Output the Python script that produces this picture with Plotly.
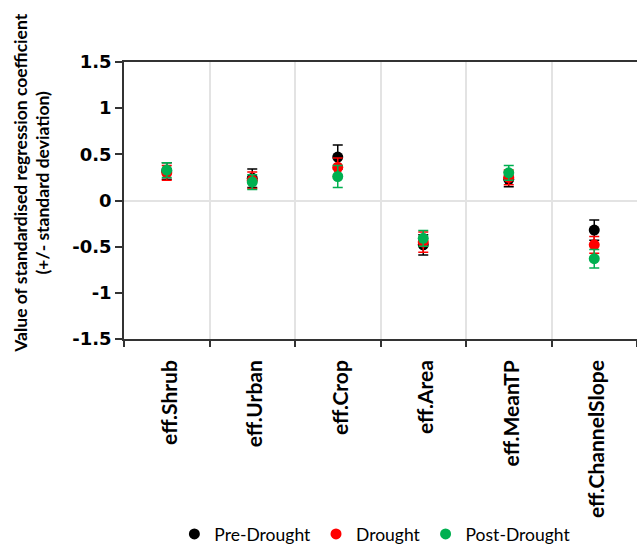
import plotly.graph_objects as go

categories = ["eff.Shrub", "eff.Urban", "eff.Crop", "eff.Area", "eff.MeanTP", "eff.ChannelSlope"]

pre_values = [0.32, 0.24, 0.47, -0.48, 0.23, -0.32]
pre_sd = [0.09, 0.10, 0.13, 0.11, 0.08, 0.11]

drought_values = [0.30, 0.22, 0.36, -0.45, 0.25, -0.48]
drought_sd = [0.08, 0.09, 0.10, 0.11, 0.08, 0.09]

post_values = [0.33, 0.20, 0.26, -0.41, 0.30, -0.63]
post_sd = [0.08, 0.08, 0.12, 0.085, 0.08, 0.10]

y_ticks = [-1.5, -1, -0.5, 0, 0.5, 1, 1.5]
y_tick_labels = ["-1.5", "-1", "-0.5", "0", "0.5", "1", "1.5"]

y_title = "Value of standardised regression coefficient<br>(+/- standard deviation)"

series = [
    ("Pre-Drought", pre_values, pre_sd, "#000000"),
    ("Drought", drought_values, drought_sd, "#FF0000"),
    ("Post-Drought", post_values, post_sd, "#00B050"),
]

font_family = "Lato, 'Open Sans', sans-serif"

fig = go.Figure()
for name, vals, sd, color in series:
    fig.add_trace(go.Scatter(
        x=categories, y=vals, name=name, mode="markers",
        marker=dict(symbol="circle", size=11, color=color),
        error_y=dict(type="data", array=sd, visible=True, color=color,
                     thickness=1.5, width=5),
    ))

fig.update_layout(
    width=637, height=552,
    margin=dict(l=124, r=0, t=62, b=210),
    paper_bgcolor="white", plot_bgcolor="white",
    font=dict(family=font_family, color="#000000"),
    showlegend=True,
    legend=dict(orientation="h", x=0.49, xanchor="center", y=-0.705, yanchor="middle",
                font=dict(size=17.5, family=font_family), itemwidth=30,
                tracegroupgap=0),
    annotations=[dict(
        text=y_title, textangle=-90, xref="paper", yref="paper",
        x=-0.181, y=0.561, xanchor="center", yanchor="middle", showarrow=False,
        font=dict(size=17.5, family=font_family, weight="bold", color="#000000"),
    )],
)

fig.update_xaxes(
    type="category", range=[-0.5, 5.5], automargin=False,
    tickson="boundaries", showgrid=True, gridcolor="#E3E3E3", gridwidth=1.5,
    showline=True, linecolor="#333333", linewidth=1.5, mirror=True,
    ticks="outside", ticklen=6, tickcolor="#333333", tickwidth=1.5,
    tickangle=-90, ticklabelstandoff=11, ticklabelshift=3,
    tickfont=dict(size=21, family=font_family, weight="bold"),
)

fig.update_yaxes(
    range=[-1.5, 1.5], tickmode="array", automargin=False,
    tickvals=y_ticks, ticktext=y_tick_labels,
    showgrid=False, zeroline=True, zerolinecolor="#E3E3E3", zerolinewidth=1.5,
    showline=True, linecolor="#333333", linewidth=1.5,
    ticks="outside", ticklen=7, tickcolor="#333333", tickwidth=1.5,
    tickfont=dict(size=18, family="'DejaVu Sans', sans-serif", weight="bold"),
)

fig.write_html("out.html")
